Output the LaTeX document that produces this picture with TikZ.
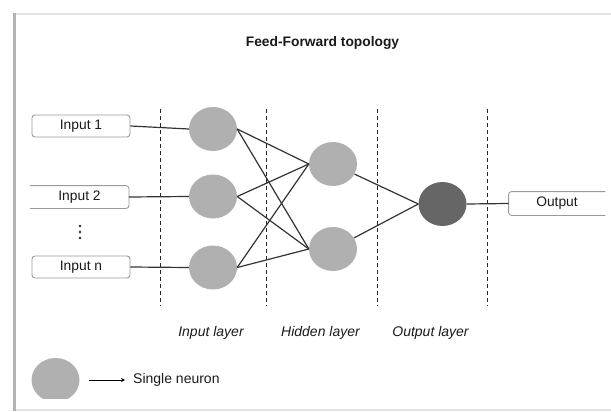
\documentclass[tikz,border=0pt]{standalone}
\usepackage{fontspec}
\setmainfont{Liberation Sans}
\usetikzlibrary{shapes.geometric,arrows.meta}
\definecolor{neurongray}{HTML}{B0B0B0}
\definecolor{outgray}{HTML}{666666}
\definecolor{linegray}{HTML}{333333}
\definecolor{boxgray}{HTML}{9A9A9A}
\definecolor{framegray}{HTML}{B4B4B4}
\definecolor{shadowgray}{HTML}{E2E2E2}
\definecolor{textgray}{HTML}{1A1A1A}
\begin{document}
\begin{tikzpicture}[x=1pt,y=-1pt,
  every node/.style={text=textgray},
  neuron/.style={ellipse, minimum width=48pt, minimum height=44pt, inner sep=0pt, fill=neurongray, draw=none},
  outneuron/.style={neuron, fill=outgray},
  inbox/.style={draw=boxgray, rounded corners=3pt, minimum width=98pt, minimum height=22pt, inner sep=0pt, line width=0.9pt, font=\fontsize{13.8}{15}\selectfont},
  openbox/.style={draw=boxgray, rounded corners=3pt, line width=0.9pt},
  link/.style={draw=linegray, line width=1.2pt},
  divider/.style={draw=black!85, line width=1pt, dash pattern=on 4pt off 3pt},
  layerlabel/.style={font=\fontsize{14}{16}\selectfont\itshape},
  legarrow/.style={draw=black, line width=1pt, -{Stealth[length=4pt,width=4pt]}}
]
\useasboundingbox (0,0) rectangle (611,412);
% frame
\draw[shadowgray, line width=2pt] (14,14) -- (611,14);
\draw[shadowgray, line width=1.5pt] (14,410) -- (611,410);
\draw[framegray, line width=2.5pt] (14.5,13) -- (14.5,411);
% title
\node[font=\fontsize{13.8}{15}\selectfont\bfseries] (title) at (322.5,43) {Feed-Forward topology};
% dividers
\foreach \x/\n in {160/a,266/b,377/c,487/d}{
  \coordinate (\n t) at (\x,109);
  \coordinate (\n b) at (\x,306);
  \draw[divider] (\n t) -- (\n b);
}
% inputs
\node[inbox] (i1) at (81,126) {Input 1};
\node[inbox, draw=none] (i2) at (79.5,197) {Input 2};
\draw[openbox] (i2.north west) -- (i2.north east) -- (i2.south east) -- (i2.south west);
\node[inbox] (in) at (81,267) {Input n};
\foreach \y in {226,232,238}{\fill[black!85] (80,\y) circle (1.4pt);}
% neurons
\node[neuron] (n1) at (213,129) {};
\node[neuron] (n2) at (213,196.5) {};
\node[neuron] (n3) at (213,267.5) {};
\node[neuron] (h1) at (333,164) {};
\node[neuron] (h2) at (333,249) {};
\node[outneuron] (o) at (442.5,204) {};
% output box
\node[inbox, draw=none, minimum width=96pt, minimum height=23pt] (ob) at (557,203.5) {Output};
\draw[openbox] (ob.north east) -- (ob.north west) -- (ob.south west) -- (ob.south east);
% connections
\draw[link] (i1.east) -- (n1.west);
\draw[link] (i2.east) -- (n2.west);
\draw[link] (in.east) -- (n3.west);
\foreach \a in {n1,n2,n3}{
  \foreach \b in {h1,h2}{
    \draw[link] (\a.east) -- (\b.west);
  }
}
\draw[link] (h1) -- (o.west);
\draw[link] (h2) -- (o.west);
\draw[link] (o.east) -- (ob.west);
% layer labels
\node[layerlabel] (l1) at (211,333) {Input layer};
\node[layerlabel] (l2) at (320.5,333) {Hidden layer};
\node[layerlabel] (l3) at (430.5,333) {Output layer};
% legend
\begin{scope}
  \clip (0,340) rectangle (120,398);
  \node[neuron] (ln) at (55.5,380) {};
\end{scope}
\node[anchor=west, inner sep=0pt, font=\fontsize{14}{16}\selectfont] (sn) at (133,380) {Single neuron};
\draw[legarrow, shorten <=9pt, shorten >=8pt] (ln.east) -- (sn.west);
\end{tikzpicture}
\end{document}
